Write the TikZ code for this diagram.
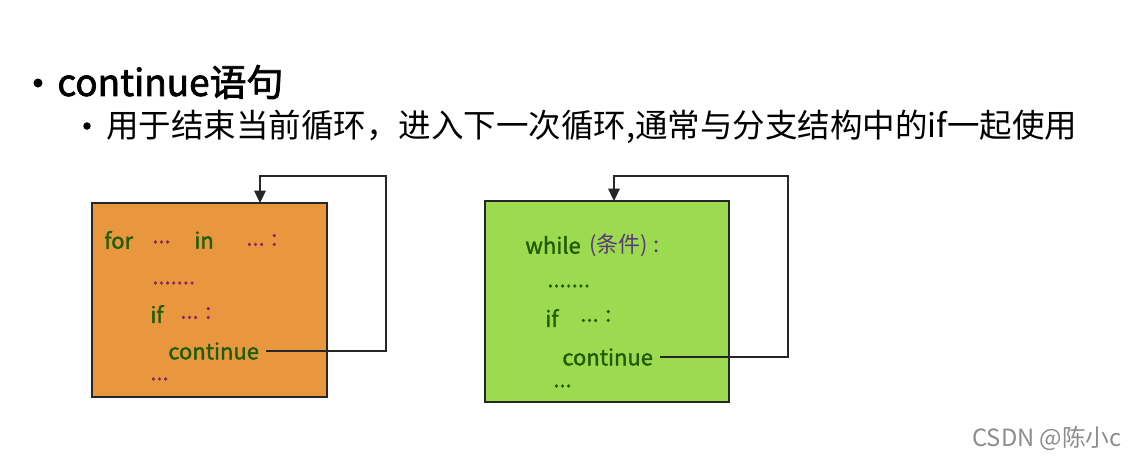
\documentclass[tikz,border=0pt]{standalone}
\usepackage{fontspec}
\setmainfont{Noto Sans CJK SC}
\newfontfamily\boxfont{Noto Sans CJK SC}[FakeBold=1.3]
\newfontfamily\headfont{Noto Sans CJK SC}[FakeBold=2]
\usetikzlibrary{arrows.meta,positioning}
\definecolor{kwgreen}{HTML}{1E5C00}
\definecolor{dotpurple}{HTML}{8A1F6A}
\definecolor{condpurple}{HTML}{5A3A78}
\definecolor{forfill}{HTML}{E8973F}
\definecolor{whilefill}{HTML}{9CDB4F}

\begin{document}
\begin{tikzpicture}[x=0.02cm, y=-0.02cm,
    loopbox/.style={
        rectangle, draw=black!85, line width=1.1pt,
        inner sep=0pt
    },
    kw/.style={
        anchor=west, inner sep=0pt, text=kwgreen,
        font=\boxfont\fontsize{12.5}{14}\selectfont
    },
    dots/.style={
        anchor=west, inner sep=0pt, text=dotpurple,
        font=\boxfont\fontsize{12.5}{14}\selectfont
    },
    bullet/.style={circle, fill=black, inner sep=0pt},
    back/.style={-{Triangle[length=7pt,width=6.5pt]}, line width=1pt, black!85}
]
\useasboundingbox (0,0) rectangle (1134,458);

% Heading
\node[bullet, minimum size=0.18cm] (bul1) at (38,83) {};
\node[anchor=west, inner sep=0pt, font=\headfont\fontsize{21}{24}\selectfont] (title) at (57,82) {continue语句};
\node[bullet, minimum size=0.15cm] (bul2) at (87,126) {};
\node[anchor=west, inner sep=0pt, font=\fontsize{18.5}{20}\selectfont] (desc) at (106,127)
    {用于结束当前循环，进入下一次循环,通常与分支结构中的if一起使用};

% for loop
\node[loopbox, fill=forfill, minimum width=4.7cm, minimum height=3.88cm] (forbox) at (209.5,300) {};
\node[kw] (for) at (104,240) {for};
\node[dots] (fdots1) at (152,242) {...};
\node[kw] (in) at (194,240) {in};
\node[dots] (fdots2) at (246,240) {... :};
\node[dots] (fdots3) at (152,283) {.......};
\node[kw] (fif) at (150,314) {if};
\node[dots] (fdots4) at (180,313) {... :};
\node[kw] (cont1) at (168,351) {continue};
\node[dots] (fdots5) at (150,379) {...};

% while loop
\node[loopbox, fill=whilefill, minimum width=4.88cm, minimum height=4.02cm] (whilebox) at (607,301.5) {};
\node[kw] (while) at (525,245) {while};
\node[anchor=west, inner sep=0pt, text=condpurple, font=\fontsize{12.5}{14}\selectfont] (cond) at (589,245) {(条件) :};
\node[dots, text=kwgreen] (wdots1) at (547,286) {.......};
\node[kw] (wif) at (545,318) {if};
\node[dots, text=kwgreen] (wdots2) at (580,316) {... :};
\node[kw] (cont2) at (562,357) {continue};
\node[dots, text=kwgreen] (wdots3) at (553,386) {...};

% loop-back arrows
\coordinate (ret1) at (386,176);
\coordinate (entry1) at (260,203);
\draw[back] ([xshift=4pt]cont1.east) -| (ret1) -| (entry1);
\coordinate (ret2) at (788,176);
\coordinate (entry2) at (614,201);
\draw[back] ([xshift=4pt]cont2.east) -| (ret2) -| (entry2);

% watermark
\node[anchor=west, inner sep=0pt, text=black!45, font=\fontsize{13.5}{15}\selectfont] (mark) at (972,438) {CSDN @陈小c};
\end{tikzpicture}
\end{document}
